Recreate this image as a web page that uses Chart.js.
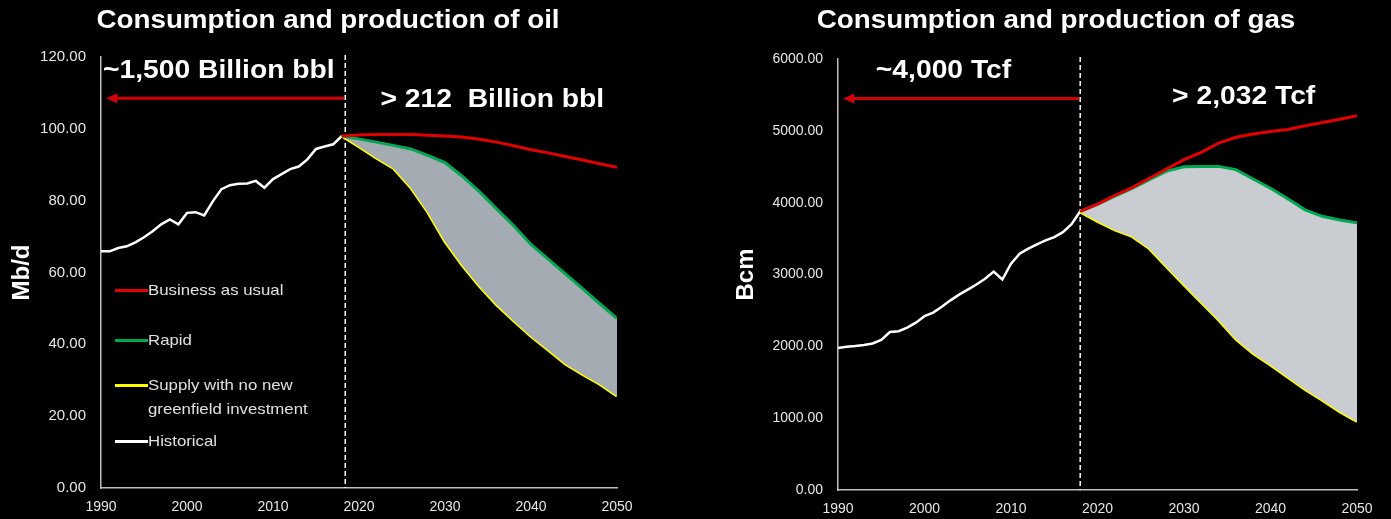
<!DOCTYPE html>
<html>
<head>
<meta charset="utf-8">
<script src="https://cdn.jsdelivr.net/npm/chart.js@4/dist/chart.umd.min.js"></script>
<style>
body{margin:0;background:#000;width:1391px;height:519px;overflow:hidden;position:relative;font-family:"Liberation Sans",Arial,sans-serif;}
canvas{position:absolute;top:0}
#oilChart{left:0}
#gasChart{left:700px}
.title{position:absolute;top:4px;color:#fff;font-weight:bold;font-size:25.5px;line-height:30px;white-space:nowrap;transform:translateX(-50%) scaleX(1.09)}
.leg{position:absolute;left:115px;color:#e0e0e0;font-size:15px;line-height:24px;white-space:nowrap}
.leg i{position:absolute;left:0;top:11px;width:33px;height:3px}
.leg span{display:inline-block;margin-left:33px;transform:scaleX(1.12);transform-origin:0 50%}
</style>
</head>
<body>
<canvas id="oilChart" width="680" height="519"></canvas>
<canvas id="gasChart" width="691" height="519"></canvas>
<div class="title" style="left:328px">Consumption and production of oil</div>
<div class="title" style="left:1056px">Consumption and production of gas</div>
<div class="leg" style="top:278px"><i style="background:#e00000"></i><span>Business as usual</span></div>
<div class="leg" style="top:328px"><i style="background:#00a651"></i><span>Rapid</span></div>
<div class="leg" style="top:373px"><i style="background:#ffff00"></i><span>Supply with no new<br>greenfield investment</span></div>
<div class="leg" style="top:429px"><i style="background:#ffffff"></i><span>Historical</span></div>
<script>
var histYears = [1990,1991,1992,1993,1994,1995,1996,1997,1998,1999,2000,2001,2002,2003,2004,2005,2006,2007,2008,2009,2010,2011,2012,2013,2014,2015,2016,2017,2018];
var futureYears = [2018,2020,2022,2024,2026,2028,2030,2032,2034,2036,2038,2040,2042,2044,2046,2048,2050];

// oil, Mb/d
var oilHistory = [65.9,65.9,66.8,67.3,68.4,69.8,71.5,73.4,74.8,73.4,76.6,76.8,75.9,79.8,83.2,84.3,84.7,84.8,85.5,83.6,86.0,87.4,88.8,89.5,91.5,94.4,95.1,95.7,98.0];
var oilBau = [98.0,98.3,98.4,98.4,98.4,98.2,98.0,97.7,97.1,96.3,95.3,94.2,93.3,92.3,91.3,90.3,89.3];
var oilRapid = [98.0,97.2,96.3,95.4,94.4,92.6,90.6,86.8,82.5,77.7,73.0,67.8,63.7,59.6,55.5,51.3,47.2];
var oilNoInvest = [98.0,95.0,91.9,89.0,83.7,76.8,68.6,62.0,56.2,51.0,46.5,42.2,38.4,34.5,31.6,28.9,25.6];

// gas, Bcm
var gasHistory = [1977,1995,2005,2020,2040,2090,2200,2210,2260,2330,2420,2470,2550,2640,2720,2790,2860,2940,3040,2930,3150,3290,3360,3420,3475,3520,3590,3700,3880];
var gasBau = [3880,3980,4100,4210,4340,4470,4600,4700,4830,4910,4955,4990,5020,5070,5115,5160,5210];
var gasRapid = [3880,3975,4090,4200,4320,4440,4500,4505,4505,4460,4330,4200,4055,3900,3810,3760,3720];
var gasNoInvest = [3870,3740,3620,3530,3360,3105,2855,2610,2366,2100,1900,1740,1570,1400,1250,1090,955];

var seriesNames = ["Business as usual","Rapid","Supply with no new greenfield investment","Historical"];

function pts(xs, ys){
  var out = [];
  for (var i = 0; i < xs.length; i++) out.push({x: xs[i], y: ys[i]});
  return out;
}

var annotate = {
  id: 'annotate',
  beforeDatasetsDraw: function(chart, args, o){
    var ctx = chart.ctx, area = chart.chartArea;
    var sx = chart.scales.x.getPixelForValue(o.split);
    ctx.save();
    ctx.strokeStyle = '#ffffff';
    ctx.lineWidth = 1.5;
    ctx.setLineDash([5,3]);
    ctx.beginPath();
    ctx.moveTo(sx, area.top - 2);
    ctx.lineTo(sx, area.bottom);
    ctx.stroke();
    ctx.restore();
  },
  afterDatasetsDraw: function(chart, args, o){
    var ctx = chart.ctx, xs = chart.scales.x, ys = chart.scales.y;
    var sx = xs.getPixelForValue(o.split);
    var ay = ys.getPixelForValue(o.arrowY);
    var ax = xs.getPixelForValue(o.arrowTo);
    ctx.save();
    ctx.strokeStyle = '#d20000';
    ctx.fillStyle = '#d20000';
    ctx.lineWidth = 3;
    ctx.beginPath();
    ctx.moveTo(sx - 1, ay);
    ctx.lineTo(ax + 8, ay);
    ctx.stroke();
    ctx.beginPath();
    ctx.moveTo(ax, ay);
    ctx.lineTo(ax + 11, ay - 5);
    ctx.lineTo(ax + 11, ay + 5);
    ctx.closePath();
    ctx.fill();
    ctx.fillStyle = '#ffffff';
    ctx.font = 'bold 25px "Liberation Sans", Arial, sans-serif';
    ctx.textAlign = 'center';
    ctx.textBaseline = 'middle';
    o.labels.forEach(function(l){
      ctx.save();
      ctx.translate(xs.getPixelForValue(l.x), ys.getPixelForValue(l.y));
      ctx.scale(1.13, 1);
      ctx.fillText(l.text, 0, 0);
      ctx.restore();
    });
    ctx.restore();
  }
};

function makeChart(id, hist, bau, rapid, noinv, yMax, yStep, yFont, yTitle, yWidth, padRight, padTop, xHeight, padBottom, titlePad, fillColor, notes){
  return new Chart(document.getElementById(id), {
    type: 'line',
    data: {
      datasets: [
        {label: seriesNames[0], data: pts(futureYears, bau), borderColor: '#e00000', borderWidth: 3, pointRadius: 0, fill: false},
        {label: seriesNames[1], data: pts(futureYears, rapid), borderColor: '#00a651', borderWidth: 3, pointRadius: 0, fill: '+1', backgroundColor: fillColor},
        {label: seriesNames[2], data: pts(futureYears, noinv), borderColor: '#ffff00', borderWidth: 3, pointRadius: 0, fill: false},
        {label: seriesNames[3], data: pts(histYears, hist), borderColor: '#ffffff', borderWidth: 2.5, pointRadius: 0, fill: false}
      ]
    },
    options: {
      responsive: false,
      animation: false,
      layout: {padding: {left: 0, right: padRight, top: padTop, bottom: padBottom}},
      plugins: {
        legend: {display: false},
        tooltip: {enabled: false},
        annotate: notes
      },
      scales: {
        x: {
          type: 'linear', min: 1990, max: 2050,
          grid: {display: false, drawTicks: false},
          border: {color: '#bdbdbd', width: 1.5},
          ticks: {stepSize: 10, color: '#e6e6e6', padding: 11, font: {size: 14, family: '"Liberation Sans", Arial'}, callback: function(v){ return String(v); }},
          afterFit: function(s){ s.height = xHeight; }
        },
        y: {
          min: 0, max: yMax,
          grid: {display: false, drawTicks: false},
          border: {color: '#bdbdbd', width: 1.5},
          ticks: {stepSize: yStep, color: '#e6e6e6', padding: 15, font: {size: yFont, family: '"Liberation Sans", Arial'}, callback: function(v){ return v.toFixed(2); }},
          title: {display: true, text: yTitle, color: '#ffffff', padding: {top: titlePad, bottom: 0}, font: {size: 24, weight: 'bold', family: '"Liberation Sans", Arial'}},
          afterFit: function(s){ s.width = yWidth; }
        }
      }
    },
    plugins: [annotate]
  });
}

var oilChart = makeChart('oilChart', oilHistory, oilBau, oilRapid, oilNoInvest, 120, 20, 15, 'Mb/d', 101, 63, 57, 30, 1, 7.5, '#a5abb2', {
  split: 2018.4, arrowY: 108.5, arrowTo: 1990.6,
  labels: [{text: '~1,500 Billion bbl', x: 2003.7, y: 116}, {text: '> 212  Billion bbl', x: 2035.5, y: 108}]
});

var gasChart = makeChart('gasChart', gasHistory, gasBau, gasRapid, gasNoInvest, 6000, 1000, 14, 'Bcm', 138, 34, 59, 29, 0, 31.5, '#c9ccd1', {
  split: 2018, arrowY: 5450, arrowTo: 1990.6,
  labels: [{text: '~4,000 Tcf', x: 2002.2, y: 5830}, {text: '> 2,032 Tcf', x: 2036.9, y: 5470}]
});
</script>
</body>
</html>
